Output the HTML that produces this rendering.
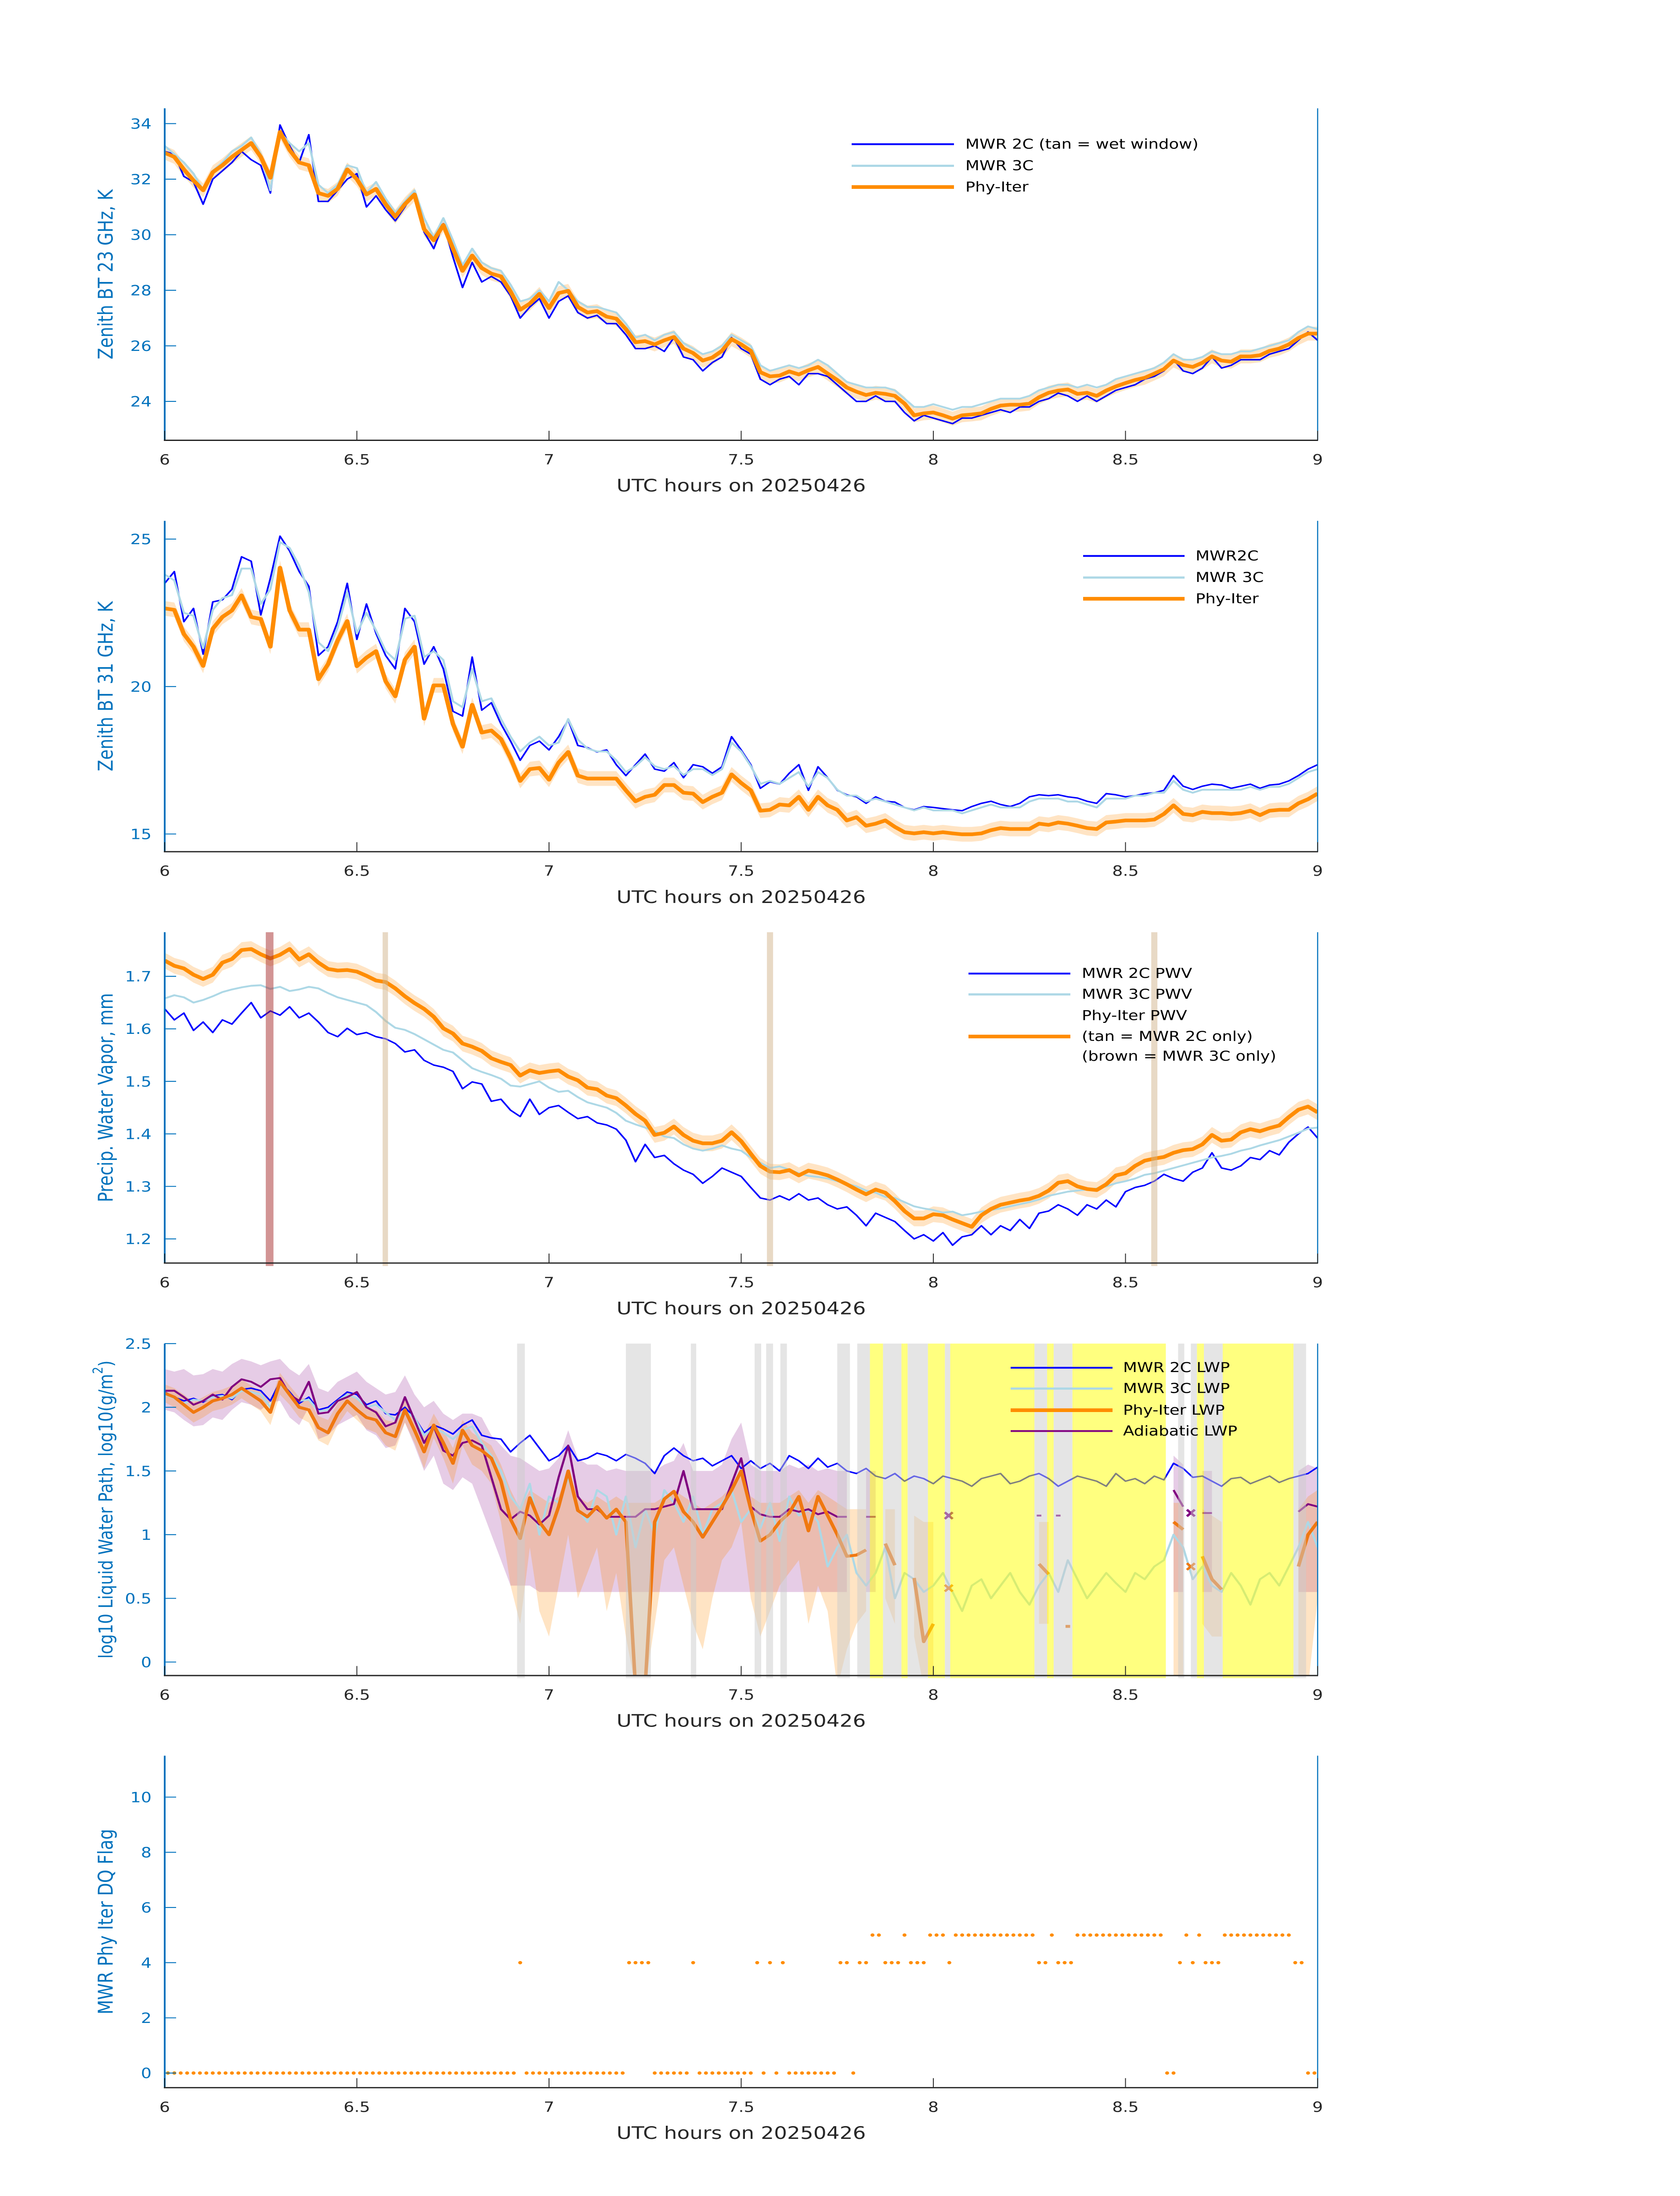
<!DOCTYPE html>
<html><head><meta charset="utf-8"><title>MWR retrieval comparison, 20250426</title>
<style>html,body{margin:0;padding:0;background:#fff;width:100%;height:100%;overflow:hidden}svg{display:block;overflow:hidden;width:100vw;height:100vh}text{font-family:"DejaVu Sans","Liberation Sans",sans-serif}</style>
</head><body>
<svg id="fig" xmlns="http://www.w3.org/2000/svg" viewBox="0 0 3825 6000" preserveAspectRatio="none"></svg>
<script>
// ---------- shared axis data ----------
const xTickValues = [6, 6.5, 7, 7.5, 8, 8.5, 9];
const xTickLabels = ["6", "6.5", "7", "7.5", "8", "8.5", "9"];
const gridStart = 6, gridStep = 0.025;

// ---------- panel 1: 23 GHz BT ----------
const bt23Phy = [32.95,32.8,32.35,31.95,31.6,32.25,32.5,32.8,33.05,33.3,32.8,32.05,33.7,33.05,32.6,32.5,31.5,31.4,31.65,32.35,32.0,31.45,31.65,31.1,30.65,31.1,31.45,30.2,29.8,30.35,29.5,28.7,29.25,28.8,28.6,28.5,27.95,27.3,27.52,27.87,27.36,27.9,27.98,27.4,27.2,27.25,27.05,26.98,26.6,26.13,26.17,26.05,26.2,26.32,25.9,25.74,25.47,25.58,25.82,26.24,26.05,25.82,25.05,24.9,24.93,25.08,24.97,25.12,25.24,25.0,24.77,24.5,24.35,24.23,24.31,24.27,24.2,23.92,23.5,23.57,23.6,23.5,23.38,23.5,23.53,23.57,23.73,23.85,23.88,23.88,23.92,24.15,24.31,24.39,24.43,24.27,24.31,24.2,24.39,24.54,24.66,24.77,24.85,25.0,25.16,25.47,25.31,25.24,25.39,25.62,25.47,25.43,25.62,25.62,25.66,25.82,25.9,26.05,26.28,26.44,26.44];
const bt23Mwr2c = [33.0,32.9,32.1,31.9,31.1,32.0,32.3,32.6,33.0,32.7,32.5,31.5,33.95,33.2,32.6,33.6,31.2,31.2,31.6,32.0,32.2,31.0,31.4,30.9,30.5,31.0,31.6,30.1,29.5,30.4,29.2,28.1,29.0,28.3,28.5,28.3,27.8,27.0,27.4,27.7,27.0,27.6,27.8,27.2,27.0,27.1,26.8,26.8,26.4,25.9,25.9,26.0,25.8,26.3,25.6,25.5,25.1,25.4,25.6,26.3,25.9,25.7,24.8,24.6,24.8,24.9,24.6,25.0,25.0,24.9,24.6,24.3,24.0,24.0,24.2,24.0,24.0,23.6,23.3,23.5,23.4,23.3,23.2,23.4,23.4,23.5,23.6,23.7,23.6,23.8,23.8,24.0,24.1,24.3,24.2,24.0,24.2,24.0,24.2,24.4,24.5,24.6,24.8,24.9,25.1,25.5,25.1,25.0,25.2,25.6,25.2,25.3,25.5,25.5,25.5,25.7,25.8,25.9,26.2,26.5,26.2];
const bt23Mwr3c = [33.2,32.9,32.6,32.2,31.6,32.3,32.6,33.0,33.2,33.5,32.9,31.6,33.7,33.3,33.0,33.3,31.8,31.5,31.8,32.5,32.4,31.5,31.9,31.3,30.8,31.2,31.6,30.6,29.9,30.6,29.8,28.9,29.5,29.0,28.8,28.7,28.2,27.6,27.7,28.0,27.6,28.3,28.0,27.6,27.4,27.4,27.3,27.2,26.8,26.3,26.4,26.2,26.4,26.5,26.1,25.9,25.7,25.8,26.0,26.4,26.2,26.0,25.3,25.1,25.2,25.3,25.2,25.3,25.5,25.3,25.0,24.7,24.6,24.5,24.5,24.5,24.4,24.1,23.8,23.8,23.9,23.8,23.7,23.8,23.8,23.9,24.0,24.1,24.1,24.1,24.2,24.4,24.5,24.6,24.6,24.5,24.6,24.5,24.6,24.8,24.9,25.0,25.1,25.2,25.4,25.7,25.5,25.5,25.6,25.8,25.7,25.7,25.8,25.8,25.9,26.0,26.1,26.2,26.5,26.7,26.6];
const bt23Unc = 0.25;
const bt23Ticks = [24, 26, 28, 30, 32, 34];

// ---------- panel 2: 31 GHz BT ----------
const bt31Phy = [22.65,22.6,21.78,21.35,20.7,21.96,22.36,22.58,23.09,22.36,22.29,21.35,24.03,22.58,21.93,21.93,20.25,20.76,21.56,22.22,20.69,20.98,21.2,20.18,19.67,20.91,21.35,18.91,20.04,20.04,18.73,17.96,19.38,18.44,18.51,18.22,17.57,16.8,17.2,17.24,16.84,17.42,17.78,16.98,16.88,16.88,16.88,16.88,16.48,16.11,16.26,16.33,16.66,16.66,16.4,16.37,16.08,16.26,16.4,17.02,16.73,16.48,15.79,15.82,16.0,15.97,16.26,15.82,16.26,15.97,15.82,15.46,15.57,15.28,15.35,15.46,15.24,15.06,15.02,15.06,15.02,15.06,15.02,14.99,14.99,15.02,15.13,15.2,15.17,15.17,15.17,15.35,15.31,15.39,15.35,15.28,15.2,15.17,15.39,15.42,15.46,15.46,15.46,15.49,15.68,15.97,15.68,15.64,15.75,15.71,15.71,15.68,15.71,15.79,15.64,15.79,15.82,15.82,16.04,16.18,16.37];
const bt31Mwr2c = [23.5,23.9,22.2,22.65,21.1,22.87,22.94,23.3,24.4,24.25,22.43,23.67,25.1,24.6,23.9,23.4,21.05,21.35,22.2,23.5,21.6,22.8,21.8,21.05,20.6,22.65,22.2,20.76,21.35,20.6,19.16,19.0,21.0,19.2,19.45,18.73,18.15,17.5,18.0,18.15,17.85,18.3,18.87,18.0,17.93,17.78,17.85,17.35,16.98,17.35,17.71,17.2,17.13,17.42,16.91,17.35,17.28,17.06,17.28,18.3,17.85,17.35,16.55,16.77,16.69,17.06,17.35,16.48,17.28,16.91,16.48,16.33,16.26,16.04,16.26,16.11,16.08,15.9,15.82,15.93,15.9,15.86,15.82,15.79,15.93,16.04,16.11,16.0,15.93,16.04,16.26,16.33,16.3,16.33,16.26,16.22,16.11,16.04,16.37,16.33,16.26,16.3,16.37,16.4,16.48,16.98,16.62,16.51,16.62,16.69,16.66,16.55,16.62,16.69,16.55,16.66,16.69,16.8,16.98,17.2,17.35];
const bt31Mwr3c = [23.8,23.6,22.5,22.4,21.3,22.6,23.0,23.1,24.0,24.0,22.8,23.3,24.9,24.7,24.1,23.2,21.5,21.2,22.0,23.2,21.8,22.5,21.9,21.2,20.9,22.3,22.4,21.0,21.2,20.9,19.5,19.3,20.6,19.5,19.6,18.9,18.3,17.8,18.1,18.3,18.0,18.1,18.9,18.2,17.9,17.8,17.8,17.5,17.1,17.3,17.6,17.3,17.2,17.3,17.0,17.2,17.2,17.0,17.2,18.1,17.8,17.3,16.7,16.8,16.7,16.9,17.1,16.6,17.1,16.9,16.5,16.3,16.3,16.1,16.2,16.1,16.0,15.9,15.8,15.9,15.8,15.8,15.8,15.7,15.8,15.9,16.0,15.9,15.9,15.9,16.1,16.2,16.2,16.2,16.1,16.1,16.0,15.9,16.2,16.2,16.2,16.3,16.3,16.4,16.4,16.8,16.5,16.4,16.5,16.5,16.5,16.5,16.5,16.6,16.5,16.6,16.6,16.7,16.9,17.1,17.2];
const bt31Unc = 0.25;
const bt31Ticks = [15, 20, 25];

// ---------- panel 3: PWV ----------
const pwvPhy = [1.730,1.720,1.715,1.703,1.695,1.703,1.726,1.733,1.750,1.752,1.742,1.734,1.741,1.752,1.732,1.742,1.726,1.714,1.711,1.712,1.709,1.701,1.692,1.689,1.677,1.662,1.649,1.638,1.623,1.601,1.591,1.572,1.566,1.558,1.544,1.537,1.531,1.511,1.521,1.516,1.519,1.521,1.509,1.502,1.488,1.485,1.473,1.468,1.454,1.438,1.425,1.398,1.402,1.414,1.398,1.387,1.382,1.382,1.387,1.403,1.386,1.362,1.339,1.328,1.327,1.331,1.321,1.330,1.326,1.321,1.313,1.304,1.294,1.285,1.294,1.288,1.272,1.253,1.239,1.239,1.247,1.245,1.237,1.230,1.223,1.245,1.257,1.265,1.269,1.273,1.276,1.282,1.292,1.307,1.310,1.300,1.295,1.293,1.304,1.321,1.325,1.339,1.349,1.353,1.356,1.364,1.369,1.371,1.380,1.398,1.387,1.389,1.403,1.409,1.405,1.411,1.416,1.432,1.446,1.452,1.441];
const pwvMwr2c = [1.638,1.617,1.630,1.597,1.613,1.593,1.617,1.609,1.630,1.650,1.621,1.634,1.626,1.642,1.621,1.630,1.613,1.593,1.585,1.601,1.589,1.593,1.585,1.581,1.572,1.556,1.560,1.540,1.531,1.527,1.519,1.486,1.499,1.495,1.462,1.466,1.445,1.433,1.466,1.437,1.450,1.454,1.441,1.429,1.433,1.421,1.417,1.409,1.388,1.347,1.380,1.355,1.359,1.343,1.331,1.323,1.306,1.319,1.335,1.327,1.319,1.298,1.278,1.274,1.282,1.274,1.286,1.274,1.278,1.265,1.257,1.261,1.245,1.225,1.249,1.241,1.233,1.216,1.200,1.208,1.196,1.212,1.188,1.204,1.208,1.225,1.208,1.225,1.216,1.237,1.220,1.249,1.253,1.265,1.257,1.245,1.265,1.257,1.274,1.261,1.290,1.298,1.302,1.310,1.323,1.315,1.310,1.327,1.335,1.364,1.335,1.331,1.339,1.355,1.351,1.368,1.360,1.384,1.400,1.413,1.392];
const pwvMwr3c = [1.658,1.664,1.660,1.650,1.655,1.662,1.670,1.675,1.679,1.682,1.683,1.676,1.680,1.672,1.675,1.680,1.677,1.668,1.660,1.655,1.650,1.645,1.632,1.615,1.602,1.598,1.590,1.580,1.570,1.560,1.555,1.540,1.525,1.518,1.512,1.505,1.492,1.490,1.495,1.500,1.488,1.480,1.482,1.470,1.460,1.455,1.450,1.440,1.425,1.418,1.412,1.405,1.395,1.392,1.380,1.372,1.368,1.372,1.378,1.372,1.368,1.355,1.345,1.335,1.338,1.332,1.325,1.320,1.318,1.315,1.310,1.305,1.300,1.292,1.288,1.280,1.278,1.270,1.262,1.258,1.255,1.250,1.252,1.245,1.248,1.252,1.255,1.258,1.262,1.266,1.270,1.275,1.282,1.286,1.290,1.292,1.294,1.296,1.300,1.306,1.310,1.315,1.322,1.325,1.330,1.335,1.340,1.345,1.350,1.355,1.358,1.362,1.368,1.372,1.378,1.383,1.388,1.395,1.402,1.410,1.412];
const pwvUnc = 0.015;
const pwvTicks = [1.2, 1.3, 1.4, 1.5, 1.6, 1.7];
const pwvBandStart = [6.263, 6.567, 7.567, 8.567];
const pwvBandEnd = [6.283, 6.581, 7.583, 8.583];
const pwvBandKind = ["brown", "tan", "tan", "tan"];

// ---------- panel 4: LWP ----------
const lwpMwr2c = [2.12,2.08,2.05,2.07,2.04,2.09,2.10,2.06,2.14,2.15,2.13,2.05,2.20,2.12,2.03,2.08,1.98,2.0,2.06,2.12,2.1,2.02,2.05,1.95,1.94,2.0,1.92,1.8,1.86,1.83,1.79,1.86,1.9,1.78,1.76,1.75,1.65,1.72,1.78,1.68,1.58,1.62,1.7,1.58,1.6,1.64,1.62,1.58,1.63,1.6,1.56,1.48,1.62,1.68,1.62,1.58,1.6,1.54,1.58,1.62,1.52,1.58,1.52,1.56,1.5,1.62,1.58,1.52,1.6,1.53,1.56,1.5,1.48,1.52,1.46,1.44,1.48,1.42,1.46,1.44,1.4,1.46,1.44,1.42,1.38,1.44,1.46,1.48,1.4,1.42,1.46,1.48,1.44,1.38,1.42,1.46,1.44,1.42,1.38,1.48,1.42,1.44,1.4,1.46,1.43,1.56,1.52,1.45,1.46,1.42,1.38,1.44,1.45,1.4,1.43,1.46,1.41,1.44,1.46,1.48,1.53];
const lwpMwr3c = [2.10,2.07,2.03,2.06,2.05,2.08,2.09,2.07,2.13,2.12,2.1,2.0,2.18,2.1,2.05,2.06,1.97,1.98,2.05,2.1,2.07,2.0,2.02,1.96,1.9,1.97,1.92,1.78,1.84,1.8,1.75,1.82,1.85,1.72,1.62,1.5,1.3,1.2,1.4,1.0,1.3,1.25,1.45,1.2,1.1,1.35,1.3,1.0,1.3,0.9,1.2,1.0,1.35,1.25,1.1,1.3,1.0,1.2,1.25,1.35,1.1,1.2,1.05,1.25,0.95,1.3,1.15,1.2,1.1,0.75,0.9,1.0,0.7,0.6,0.7,0.9,0.5,0.7,0.65,0.55,0.6,0.7,0.55,0.4,0.6,0.65,0.5,0.6,0.7,0.55,0.45,0.6,0.7,0.55,0.8,0.65,0.5,0.6,0.7,0.62,0.55,0.7,0.65,0.75,0.8,1.0,0.9,0.65,0.75,0.6,0.55,0.7,0.6,0.45,0.65,0.7,0.6,0.75,0.9,1.1,0.9];
const lwpPhy = [2.11,2.08,2.02,1.96,2.0,2.05,2.07,2.1,2.15,2.1,2.05,1.96,2.2,2.1,2.0,1.98,1.84,1.8,1.95,2.05,1.98,1.92,1.9,1.8,1.77,1.98,1.82,1.65,1.86,1.72,1.56,1.82,1.7,1.66,1.6,1.42,1.12,0.97,1.29,1.1,1.0,1.22,1.5,1.19,1.14,1.22,1.13,1.2,1.1,-0.2,-0.2,1.1,1.28,1.34,1.18,1.1,0.98,1.1,1.22,1.35,1.5,1.2,0.95,1.0,1.1,1.17,1.3,1.03,1.3,1.15,1.0,0.83,0.84,0.88,null,0.93,0.76,null,0.66,0.16,0.3,null,null,null,null,null,null,null,null,null,null,0.77,0.69,null,0.28,null,null,null,null,null,null,null,null,null,null,1.1,1.04,null,0.83,0.65,0.57,null,null,null,null,null,null,null,0.75,1.0,1.1];
const lwpPhyUp = [2.18,2.15,2.1,2.04,2.08,2.12,2.14,2.17,2.22,2.17,2.12,2.04,2.27,2.17,2.08,2.06,1.93,1.9,2.03,2.12,2.06,2.0,1.98,1.9,1.88,2.06,1.92,1.78,1.95,1.82,1.68,1.9,1.8,1.75,1.7,1.55,1.35,1.2,1.35,1.3,1.25,1.3,1.5,1.3,1.25,1.3,1.25,1.3,1.25,1.25,1.25,1.25,1.3,1.35,1.3,1.25,1.2,1.25,1.3,1.38,1.5,1.3,1.25,1.25,1.25,1.3,1.35,1.25,1.35,1.3,1.25,1.2,1.2,1.2,null,1.2,1.2,null,1.15,1.1,1.1,null,null,null,null,null,null,null,null,null,null,1.1,1.1,null,0.9,null,null,null,null,null,null,null,null,null,null,1.25,1.25,null,1.2,1.15,1.1,null,null,null,null,null,null,null,1.2,1.3,1.35];
const lwpPhyLo = [2.04,2.0,1.94,1.88,1.92,1.97,1.99,2.02,2.07,2.02,1.97,1.86,2.1,2.02,1.92,1.88,1.74,1.7,1.86,1.97,1.9,1.83,1.8,1.7,1.66,1.88,1.72,1.52,1.76,1.6,1.4,1.7,1.55,1.5,1.4,1.1,0.6,0.3,0.9,0.4,0.2,0.6,1.0,0.5,0.7,0.9,0.4,0.7,0.2,-0.2,-0.2,0.3,0.8,0.9,0.6,0.3,0.1,0.5,0.8,0.9,1.1,0.5,0.2,0.4,0.6,0.7,0.8,0.3,0.6,0.4,-0.2,0.1,0.3,0.4,null,0.5,0.3,null,0.2,-0.2,-0.2,null,null,null,null,null,null,null,null,null,null,0.3,0.3,null,-0.2,null,null,null,null,null,null,null,null,null,null,-0.2,-0.2,null,0.3,0.2,0.2,null,null,null,null,null,null,null,-0.2,-0.2,0.5];
const lwpAdi = [2.13,2.13,2.08,2.02,2.05,2.1,2.06,2.16,2.22,2.2,2.16,2.22,2.23,2.1,2.05,2.2,1.95,1.96,2.05,2.08,2.12,2.0,1.96,1.85,1.88,2.08,1.9,1.72,1.85,1.66,1.62,1.72,1.74,1.7,1.45,1.2,1.12,1.18,1.15,1.08,1.15,1.45,1.7,1.3,1.2,1.2,1.14,1.14,1.14,1.14,1.2,1.2,1.22,1.24,1.5,1.2,1.2,1.2,1.2,1.4,1.6,1.22,1.16,1.14,1.14,1.2,1.18,1.2,1.16,1.18,1.14,1.14,null,1.14,1.14,null,null,null,null,null,null,null,null,null,null,null,null,null,null,null,null,1.15,null,1.15,null,null,null,null,null,null,null,null,null,null,null,1.35,1.22,null,1.17,1.17,null,null,null,null,null,null,null,null,1.18,1.24,1.22];
const lwpAdiUp = [2.3,2.28,2.3,2.25,2.26,2.3,2.28,2.34,2.38,2.36,2.33,2.36,2.38,2.3,2.25,2.34,2.15,2.12,2.2,2.24,2.28,2.2,2.15,2.1,2.12,2.25,2.1,2.0,2.05,1.95,1.9,1.95,1.95,1.92,1.78,1.7,1.62,1.6,1.55,1.5,1.52,1.6,1.82,1.6,1.55,1.55,1.5,1.52,1.5,1.5,1.5,1.5,1.55,1.58,1.72,1.5,1.5,1.5,1.55,1.75,1.88,1.55,1.5,1.5,1.5,1.55,1.52,1.55,1.5,1.52,1.5,1.5,null,1.5,1.5,null,null,null,null,null,null,null,null,null,null,null,null,null,null,null,null,1.5,null,1.5,null,null,null,null,null,null,null,null,null,null,null,1.62,1.55,null,1.5,1.5,null,null,null,null,null,null,null,null,1.5,1.55,1.52];
const lwpAdiLo = [1.98,1.96,1.9,1.85,1.86,1.92,1.9,1.98,2.04,2.02,1.98,2.04,2.05,1.92,1.86,2.0,1.75,1.78,1.86,1.9,1.94,1.82,1.78,1.68,1.7,1.88,1.7,1.5,1.62,1.4,1.35,1.45,1.4,1.2,1.0,0.8,0.6,0.6,0.6,0.55,0.55,0.55,0.55,0.55,0.55,0.55,0.55,0.55,0.55,0.55,0.55,0.55,0.55,0.55,0.55,0.55,0.55,0.55,0.55,0.55,0.55,0.55,0.55,0.55,0.55,0.55,0.55,0.55,0.55,0.55,0.55,0.55,null,0.55,0.55,null,null,null,null,null,null,null,null,null,null,null,null,null,null,null,null,0.55,null,0.55,null,null,null,null,null,null,null,null,null,null,null,0.55,0.55,null,0.55,0.55,null,null,null,null,null,null,null,null,0.55,0.55,0.55];
const lwpAdiMarkT = [8.04, 8.67];
const lwpAdiMarkV = [1.15, 1.17];
const lwpPhyMarkT = [8.04, 8.67];
const lwpPhyMarkV = [0.58, 0.75];
const lwpGreyStart = [6.917,7.200,7.369,7.535,7.565,7.602,7.750,7.802,7.869,7.933,8.030,8.263,8.313,8.637,8.670,8.704,8.937];
const lwpGreyEnd   = [6.937,7.265,7.383,7.552,7.583,7.619,7.783,7.835,7.917,7.986,8.044,8.296,8.362,8.653,8.686,8.753,8.970];
const lwpYellowStart = [7.835,7.917,7.986,8.044,8.296,8.362,8.686,8.753];
const lwpYellowEnd   = [7.869,7.933,8.030,8.263,8.313,8.605,8.704,8.937];
const lwpTicks = [0, 0.5, 1, 1.5, 2, 2.5];
const lwpTickLabels = ["0", "0.5", "1", "1.5", "2", "2.5"];

// ---------- panel 5: DQ flag (run-length, one value per minute from 06:00) ----------
const dqRunValues = [0,4,0,4,0,4,0,4,0,4,0,4,0,4,0,4,5,4,5,4,5,4,5,4,5,4,5,0,4,5,4,5,4,5,4,0,null];
const dqRunCounts = [55,1,16,4,6,1,9,1,1,1,1,1,8,2,1,2,2,3,1,3,3,1,13,2,1,3,14,2,1,1,1,1,3,11,2,2,1];
const dqTicks = [0, 2, 4, 6, 8, 10];

// ---------- drawing ----------
const NS = "http://www.w3.org/2000/svg";
const svg = document.getElementById("fig");
const X0 = 375, X1 = 3000, T0 = 6, T1 = 9;
const AXBLUE = "#0072BD", DARK = "#262626";
function xs(t) { return X0 + (t - T0) / (T1 - T0) * (X1 - X0); }
function mk(tag, attrs, parent) {
  const el = document.createElementNS(NS, tag);
  for (const k in attrs) el.setAttribute(k, attrs[k]);
  (parent || svg).appendChild(el);
  return el;
}
function gridT(i) { return gridStart + i * gridStep; }

function makePanel(key, top, bottom, ymin, ymax) {
  const g = mk("g", {});
  
  
  const cp = mk("clipPath", { id: "clip-" + key }, g);
  mk("rect", { x: X0, y: top, width: X1 - X0, height: bottom - top }, cp);
  const plot = mk("g", { "clip-path": "url(#clip-" + key + ")" }, g);
  
  
  const ys = v => bottom - (v - ymin) / (ymax - ymin) * (bottom - top);
  return { g, plot, top, bottom, ys };
}
function pathFrom(vals, ys, tFn) {
  let d = "", run = [];
  const flush = () => {
    if (run.length === 1) {
      const [t, v] = run[0];
      d += "M" + xs(t - 0.006).toFixed(1) + "," + ys(v).toFixed(1) + "L" + xs(t + 0.006).toFixed(1) + "," + ys(v).toFixed(1);
    } else if (run.length > 1) {
      run.forEach((p, j) => { d += (j ? "L" : "M") + xs(p[0]).toFixed(1) + "," + ys(p[1]).toFixed(1); });
    }
    run = [];
  };
  vals.forEach((v, i) => { if (v === null) flush(); else run.push([tFn(i), v]); });
  flush();
  return d;
}
function bandFrom(lo, hi, ys) {
  let d = "", run = [];
  const flush = () => {
    if (run.length > 1) {
      run.forEach((i, j) => { d += (j ? "L" : "M") + xs(gridT(i)).toFixed(1) + "," + ys(hi[i]).toFixed(1); });
      for (let j = run.length - 1; j >= 0; j--) { const i = run[j]; d += "L" + xs(gridT(i)).toFixed(1) + "," + ys(lo[i]).toFixed(1); }
      d += "Z";
    }
    run = [];
  };
  lo.forEach((v, i) => { if (v === null || hi[i] === null) flush(); else run.push(i); });
  flush();
  return d;
}
function drawAxes(P, key, yTicks, yLabels, yTitle, titleSize) {
  const { g, top, bottom, ys } = P;
  const la = mk("line", { x1: X0, y1: top, x2: X0, y2: bottom, stroke: AXBLUE, "stroke-width": 4 }, g);
  
  
  const ra = mk("line", { x1: X1, y1: top, x2: X1, y2: bottom, stroke: AXBLUE, "stroke-width": 2.5 }, g);
  
  
  const ba = mk("line", { x1: X0 - 2, y1: bottom, x2: X1 + 1, y2: bottom, stroke: DARK, "stroke-width": 3.5 }, g);
  
  
  yTicks.forEach((v, i) => {
    const y = ys(v);
    const tk = mk("line", { x1: X0, y1: y, x2: X0 + 26, y2: y, stroke: AXBLUE, "stroke-width": 2.5 }, g);
    
    
    const tl = mk("text", { x: 345, y: y + 14, "text-anchor": "end", "font-size": 38, fill: AXBLUE }, g);
    tl.textContent = yLabels[i];
    
    
  });
  xTickValues.forEach((t, i) => {
    const x = xs(t);
    const tk = mk("line", { x1: x, y1: bottom, x2: x, y2: bottom - 26, stroke: DARK, "stroke-width": 2 }, g);
    
    
    const tl = mk("text", { x: x, y: bottom + 66, "text-anchor": "middle", "font-size": 38, fill: DARK }, g);
    tl.textContent = xTickLabels[i];
    
    
  });
  const xl = mk("text", { x: (X0 + X1) / 2, y: bottom + 140, "text-anchor": "middle", "font-size": 47, fill: DARK }, g);
  xl.textContent = "UTC hours on 20250426";
  
  
  const cy = (top + bottom) / 2;
  const yt = mk("text", { x: 241, y: cy, "text-anchor": "middle", "dominant-baseline": "central", "font-size": titleSize, fill: AXBLUE, transform: "rotate(-90 241 " + cy + ")" }, g);
  if (Array.isArray(yTitle)) {
    const t1 = mk("tspan", {}, yt); t1.textContent = yTitle[0];
    const t2 = mk("tspan", { "baseline-shift": "super", "font-size": titleSize * 0.7 }, yt); t2.textContent = yTitle[1];
    const t3 = mk("tspan", {}, yt); t3.textContent = yTitle[2];
  } else yt.textContent = yTitle;
  
  
}
function legend(key, lineX1, lineX2, textX, rows) {
  const lg = mk("g", {});
  
  
  rows.forEach(r => {
    if (r.color) {
      const ln = mk("line", { x1: lineX1, y1: r.y, x2: lineX2, y2: r.y, stroke: r.color, "stroke-width": r.w }, lg);
      
      
    }
    const tx = mk("text", { x: textX, y: r.y, "dominant-baseline": "central", "font-size": 37, fill: "#000" }, lg);
    tx.textContent = r.label;
    
    
  });
}
function line(P, vals, color, w, name, tFn) {
  const p = mk("path", { d: pathFrom(vals, P.ys, tFn || gridT), fill: "none", stroke: color, "stroke-width": w, "stroke-linejoin": "round", "stroke-linecap": "butt" }, P.plot);
  
  
  return p;
}
function constBand(P, vals, unc, name) {
  const lo = vals.map(v => v - unc), hi = vals.map(v => v + unc);
  const p = mk("path", { d: bandFrom(lo, hi, P.ys), fill: "rgba(255,140,0,0.23)", stroke: "none" }, P.plot);
  
  
}

// Panel 1
const P1 = makePanel("bt23", 296, 1203, 22.6, 34.55);
constBand(P1, bt23Phy, bt23Unc, "bt23-phyiter-uncertainty");
line(P1, bt23Mwr2c, "#0000ff", 4, "bt23-mwr2c-line");
line(P1, bt23Mwr3c, "#add8e6", 5, "bt23-mwr3c-line");
line(P1, bt23Phy, "#ff8c00", 10, "bt23-phyiter-line");
drawAxes(P1, "bt23", bt23Ticks, bt23Ticks.map(String), "Zenith BT 23 GHz, K", 46);
legend("bt23", 1939, 2172, 2198, [
  { y: 394, color: "#0000ff", w: 5, label: "MWR 2C (tan = wet window)" },
  { y: 453, color: "#add8e6", w: 6, label: "MWR 3C" },
  { y: 511, color: "#ff8c00", w: 10, label: "Phy-Iter" }]);

// Panel 2
const P2 = makePanel("bt31", 1423, 2327, 14.40, 25.62);
constBand(P2, bt31Phy, bt31Unc, "bt31-phyiter-uncertainty");
line(P2, bt31Mwr2c, "#0000ff", 4, "bt31-mwr2c-line");
line(P2, bt31Mwr3c, "#add8e6", 5, "bt31-mwr3c-line");
line(P2, bt31Phy, "#ff8c00", 10, "bt31-phyiter-line");
drawAxes(P2, "bt31", bt31Ticks, bt31Ticks.map(String), "Zenith BT 31 GHz, K", 46);
legend("bt31", 2466, 2697, 2722, [
  { y: 1519, color: "#0000ff", w: 5, label: "MWR2C" },
  { y: 1578, color: "#add8e6", w: 6, label: "MWR 3C" },
  { y: 1636, color: "#ff8c00", w: 10, label: "Phy-Iter" }]);

// Panel 3
const P3 = makePanel("pwv", 2547, 3451, 1.154, 1.784);
constBand(P3, pwvPhy, pwvUnc, "pwv-phyiter-uncertainty");
line(P3, pwvMwr2c, "#0000ff", 4, "pwv-mwr2c-line");
line(P3, pwvMwr3c, "#add8e6", 5, "pwv-mwr3c-line");
line(P3, pwvPhy, "#ff8c00", 10, "pwv-phyiter-line");
pwvBandStart.forEach((s, i) => {
  const r = mk("rect", { x: xs(s), y: P3.top, width: xs(pwvBandEnd[i]) - xs(s), height: P3.bottom - P3.top + 8,
    fill: pwvBandKind[i] === "brown" ? "rgba(165,42,42,0.5)" : "rgba(210,180,140,0.5)" }, P3.g);
  
  
});
drawAxes(P3, "pwv", pwvTicks, pwvTicks.map(v => v.toFixed(1)), "Precip. Water Vapor, mm", 46);
legend("pwv", 2205, 2437, 2463, [
  { y: 2660, color: "#0000ff", w: 5, label: "MWR 2C PWV" },
  { y: 2717, color: "#add8e6", w: 6, label: "MWR 3C PWV" },
  { y: 2775, color: null, w: 0, label: "Phy-Iter PWV" },
  { y: 2832, color: "#ff8c00", w: 10, label: "(tan = MWR 2C only)" },
  { y: 2886, color: null, w: 0, label: "(brown = MWR 3C only)" }]);

// Panel 4
const P4 = makePanel("lwp", 3671, 4578, -0.106, 2.5);
const ab = mk("path", { d: bandFrom(lwpAdiLo, lwpAdiUp, P4.ys), fill: "rgba(128,0,128,0.2)", stroke: "none" }, P4.plot);


const pb = mk("path", { d: bandFrom(lwpPhyLo, lwpPhyUp, P4.ys), fill: "rgba(255,140,0,0.23)", stroke: "none" }, P4.plot);


line(P4, lwpMwr2c, "#0000ff", 4, "lwp-mwr2c-line");
line(P4, lwpMwr3c, "#add8e6", 5, "lwp-mwr3c-line");
line(P4, lwpAdi, "#800080", 5, "lwp-adiabatic-line");
line(P4, lwpPhy, "#f07810", 8, "lwp-phyiter-line");
function xMark(P, t, v, color, name) {
  const x = xs(t), y = P.ys(v), s = 9;
  const m = mk("path", { d: `M${x - s},${y - s}L${x + s},${y + s}M${x - s},${y + s}L${x + s},${y - s}`, stroke: color, "stroke-width": 6, fill: "none" }, P.plot);
  
  
}
lwpAdiMarkT.forEach((t, i) => xMark(P4, t, lwpAdiMarkV[i], "#800080", "lwp-adiabatic-marker"));
lwpPhyMarkT.forEach((t, i) => xMark(P4, t, lwpPhyMarkV[i], "#f07810", "lwp-phyiter-marker"));
lwpGreyStart.forEach((s, i) => {
  const r = mk("rect", { x: xs(s), y: P4.top, width: xs(lwpGreyEnd[i]) - xs(s), height: P4.bottom - P4.top + 7, fill: "rgba(204,204,204,0.5)" }, P4.g);
  
  
});
lwpYellowStart.forEach((s, i) => {
  const r = mk("rect", { x: xs(s), y: P4.top, width: xs(lwpYellowEnd[i]) - xs(s), height: P4.bottom - P4.top + 7, fill: "rgba(255,255,0,0.5)" }, P4.g);
  
  
});
drawAxes(P4, "lwp", lwpTicks, lwpTickLabels, ["log10 Liquid Water Path, log10(g/m", "2", ")"], 44);
legend("lwp", 2301, 2533, 2557, [
  { y: 3737, color: "#0000ff", w: 5, label: "MWR 2C LWP" },
  { y: 3794, color: "#add8e6", w: 6, label: "MWR 3C LWP" },
  { y: 3853, color: "#ff8c00", w: 10, label: "Phy-Iter LWP" },
  { y: 3910, color: "#800080", w: 5, label: "Adiabatic LWP" }]);

// Panel 5
const P5 = makePanel("dq", 4797, 5704, -0.53, 11.5);
let minute = 0;
dqRunValues.forEach((v, r) => {
  for (let k = 0; k < dqRunCounts[r]; k++) {
    if (v !== null) {
      const c = mk("circle", { cx: xs(T0 + (minute + 0.5) / 60), cy: P5.ys(v), r: 4.5, fill: "#ff8c00" }, P5.plot);
      
      
    }
    minute++;
  }
});
drawAxes(P5, "dq", dqTicks, dqTicks.map(String), "MWR Phy Iter DQ Flag", 46);
</script>
</body></html>
